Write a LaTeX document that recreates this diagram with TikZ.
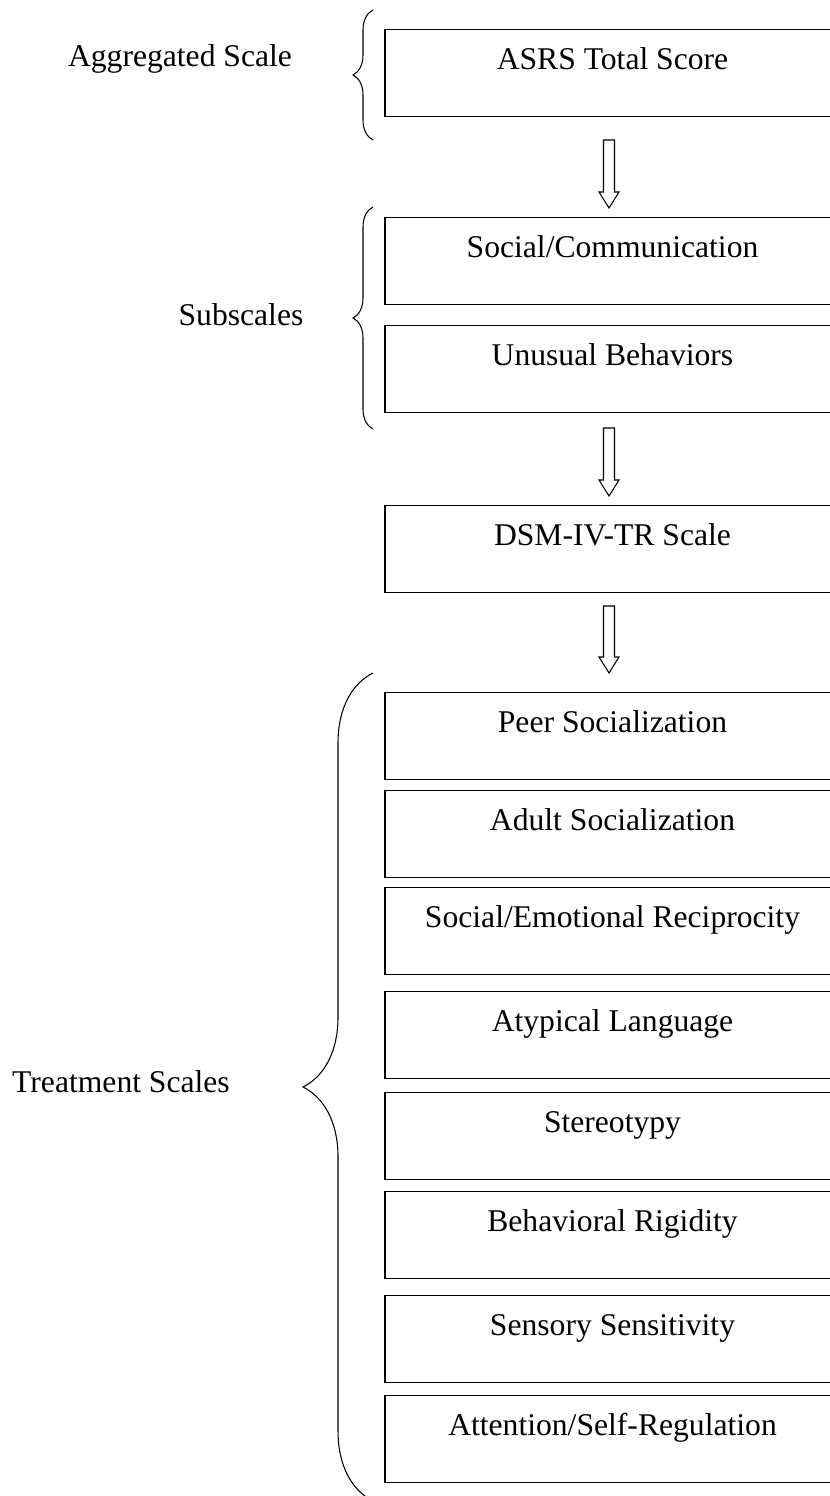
\documentclass[tikz,border=0pt]{standalone}
\usepackage{fontspec}
\setmainfont{Liberation Serif}
\usetikzlibrary{decorations.pathreplacing}

\begin{document}
\begin{tikzpicture}[
  x=0.02cm, y=-0.02cm,
  font=\fontsize{18}{22}\selectfont,
  box/.style = {draw, line width=0.75pt, anchor=north, minimum width=9.1cm,
                inner xsep=0pt, inner ysep=0pt,
                text height=0.79cm, text depth=0.95cm},
  lbl/.style = {anchor=base},
  blk/.style = {draw, fill=white, line width=0.6pt, line join=miter},
  brc/.style = {decorate, decoration={brace, amplitude=#1}, line width=0.6pt}
]
  \useasboundingbox (0,0) rectangle (830,1496);
  \clip (0,0) rectangle (830,1496);

  % Aggregated scale
  \node[box] (asrs) at (612.5,29) {ASRS Total Score};

  % Subscales
  \node[box] (soc)  at (612.5,217) {Social/Communication};
  \node[box] (unus) at (612.5,325) {Unusual Behaviors};

  % DSM
  \node[box] (dsm)  at (612.5,505) {DSM-IV-TR Scale};

  % Treatment scales
  \node[box] (peer)   at (612.5,692)  {Peer Socialization};
  \node[box] (adult)  at (612.5,790)  {Adult Socialization};
  \node[box] (socemo) at (612.5,887)  {Social/Emotional Reciprocity};
  \node[box] (atyp)   at (612.5,991)  {Atypical Language};
  \node[box] (stereo) at (612.5,1092) {Stereotypy};
  \node[box] (rigid)  at (612.5,1191) {Behavioral Rigidity};
  \node[box] (sens)   at (612.5,1295) {Sensory Sensitivity};
  \node[box] (attn)   at (612.5,1395) {Attention/Self-Regulation};

  % Labels on the left
  \node[lbl] (aggr)  at (180,67)   {Aggregated Scale};
  \node[lbl] (subs)  at (241,326)  {Subscales};
  \node[lbl] (treat) at (121,1092) {Treatment Scales};

  % Braces
  \draw[brc=0.4cm] (373,140) -- (373,10);
  \draw[brc=0.4cm] (373,429) -- (373,207);
  \draw[brc=1.4cm] (373,1501) -- (373,673);

  % Block arrows between levels
  \coordinate (a1s) at (609,140);  \coordinate (a1e) at (609,208);
  \coordinate (a2s) at (609,428);  \coordinate (a2e) at (609,496);
  \coordinate (a3s) at (609,606);  \coordinate (a3e) at (609,673);

  \draw[blk] (a1s) ++(-5.5,0) -- ++(0,52) -- ++(-4.5,0) -- (a1e)
      -- ++(10,-16) -- ++(-4.5,0) -- ++(0,-52) -- cycle;
  \draw[blk] (a2s) ++(-5.5,0) -- ++(0,52) -- ++(-4.5,0) -- (a2e)
      -- ++(10,-16) -- ++(-4.5,0) -- ++(0,-52) -- cycle;
  \draw[blk] (a3s) ++(-5.5,0) -- ++(0,51) -- ++(-4.5,0) -- (a3e)
      -- ++(10,-16) -- ++(-4.5,0) -- ++(0,-51) -- cycle;

\end{tikzpicture}
\end{document}
